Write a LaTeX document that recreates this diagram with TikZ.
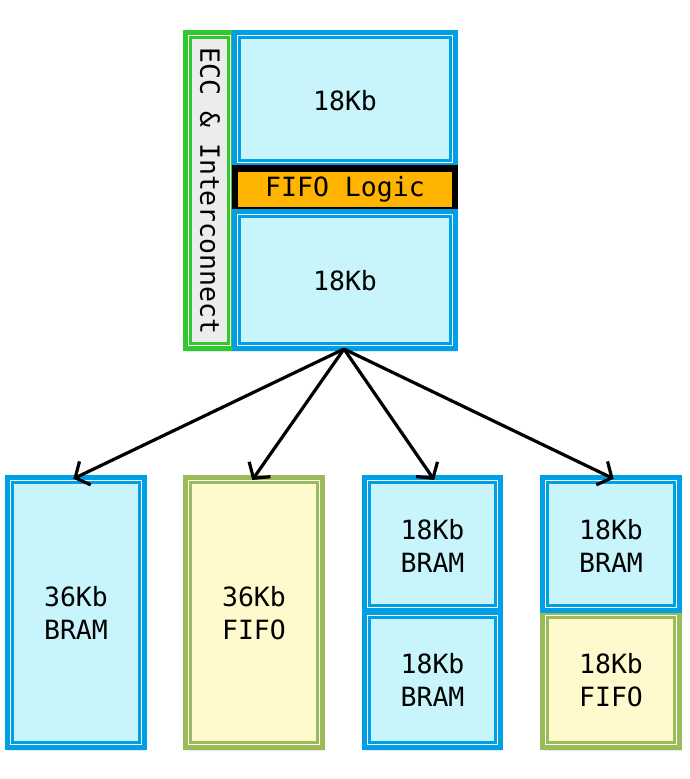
\documentclass[tikz,border=0pt]{standalone}
\usepackage{fontspec}
\setmonofont{DejaVu Sans Mono}
\usetikzlibrary{arrows.meta,shadows}
\definecolor{blueB}{RGB}{0,160,230}
\definecolor{cyanF}{RGB}{200,245,252}
\definecolor{greenB}{RGB}{50,200,50}
\definecolor{oliveB}{RGB}{155,187,89}
\definecolor{yellowF}{RGB}{255,250,205}
\definecolor{orangeF}{RGB}{255,180,0}
\definecolor{grayF}{RGB}{236,236,236}
\tikzset{
  lbl/.style={font=\ttfamily\fontsize{26.5}{33}\selectfont, align=center, text=black},
  blk/.style={lbl, rectangle, line width=5pt, inner sep=0pt, outer sep=0pt},
  bluebox/.style={blk, draw=blueB, fill=cyanF},
  fifobox/.style={blk, draw=oliveB, fill=yellowF},
  eccbox/.style={blk, draw=greenB, fill=grayF},
  shad/.style={drop shadow={opacity=0.18, shadow xshift=1pt, shadow yshift=-3pt}},
  innerw/.style={draw=white, line width=1.5pt},
  innerb/.style={draw=blueB, line width=3.2pt},
  innerg/.style={draw=oliveB, line width=3.2pt},
  innerG/.style={draw=greenB, line width=3.2pt},
  arr/.style={draw=black, line width=3.2pt, -{Straight Barb[length=11pt,width=26pt]}, shorten >=-3pt}
}
\newcommand{\dblframe}[2]{%
  \draw[innerw] ([shift={(3,3)}]#1.north west) rectangle ([shift={(-3,-3)}]#1.south east);
  \draw[#2] ([shift={(5.3,5.3)}]#1.north west) rectangle ([shift={(-5.3,-5.3)}]#1.south east);
}
\begin{document}
\begin{tikzpicture}[x=1pt,y=-1pt]
\useasboundingbox (0,0) rectangle (689,779);
\fill[white] (0,0) rectangle (689,779);

% top block
\node[eccbox, shad, minimum width=48pt, minimum height=316pt] (ecc) at (209.5,190.5) {};
\dblframe{ecc}{innerG}
\node[lbl, rotate=-90] (ecct) at (210,191) {ECC \& Interconnect};

\node[bluebox, shad, minimum width=221pt, minimum height=137pt] (low18) at (345,280) {};
\dblframe{low18}{innerb}
\node[lbl] (low18t) at (345,281) {18Kb};

\node[bluebox, minimum width=221pt, minimum height=133pt] (up18) at (345,99) {};
\dblframe{up18}{innerb}
\node[lbl] (up18t) at (345,101) {18Kb};

\fill[black] (232,165) rectangle (458,209);
\node[lbl, fill=orangeF, minimum width=214pt, minimum height=35pt, inner sep=0pt] (fifo) at (345,189.5) {FIFO Logic};

% bottom blocks
\node[bluebox, shad, minimum width=137pt, minimum height=270pt] (b1) at (76,612.5) {};
\dblframe{b1}{innerb}
\node[lbl] (b1t) at (76,613) {36Kb\\BRAM};

\node[fifobox, shad, minimum width=137pt, minimum height=270pt] (b2) at (254,612.5) {};
\dblframe{b2}{innerg}
\node[lbl] (b2t) at (254,613) {36Kb\\FIFO};

\node[bluebox, shad, minimum width=136pt, minimum height=135pt] (b3b) at (432.5,680) {};
\dblframe{b3b}{innerb}
\node[lbl] (b3bt) at (432.5,680) {18Kb\\BRAM};
\node[bluebox, minimum width=136pt, minimum height=133pt] (b3a) at (432.5,544) {};
\dblframe{b3a}{innerb}
\node[lbl] (b3at) at (432.5,546) {18Kb\\BRAM};

\node[fifobox, shad, minimum width=137pt, minimum height=135pt] (b4b) at (611,680) {};
\dblframe{b4b}{innerg}
\node[lbl] (b4bt) at (611,680) {18Kb\\FIFO};
\node[bluebox, minimum width=137pt, minimum height=133pt] (b4a) at (611,544) {};
\dblframe{b4a}{innerb}
\node[lbl] (b4at) at (611,546) {18Kb\\BRAM};

% arrows
\coordinate (src) at (344,349);
\draw[arr] (src) -- (b1.north);
\draw[arr] (src) -- (b2.north);
\draw[arr] (src) -- (b3a.north);
\draw[arr] (src) -- (b4a.north);
\end{tikzpicture}
\end{document}
